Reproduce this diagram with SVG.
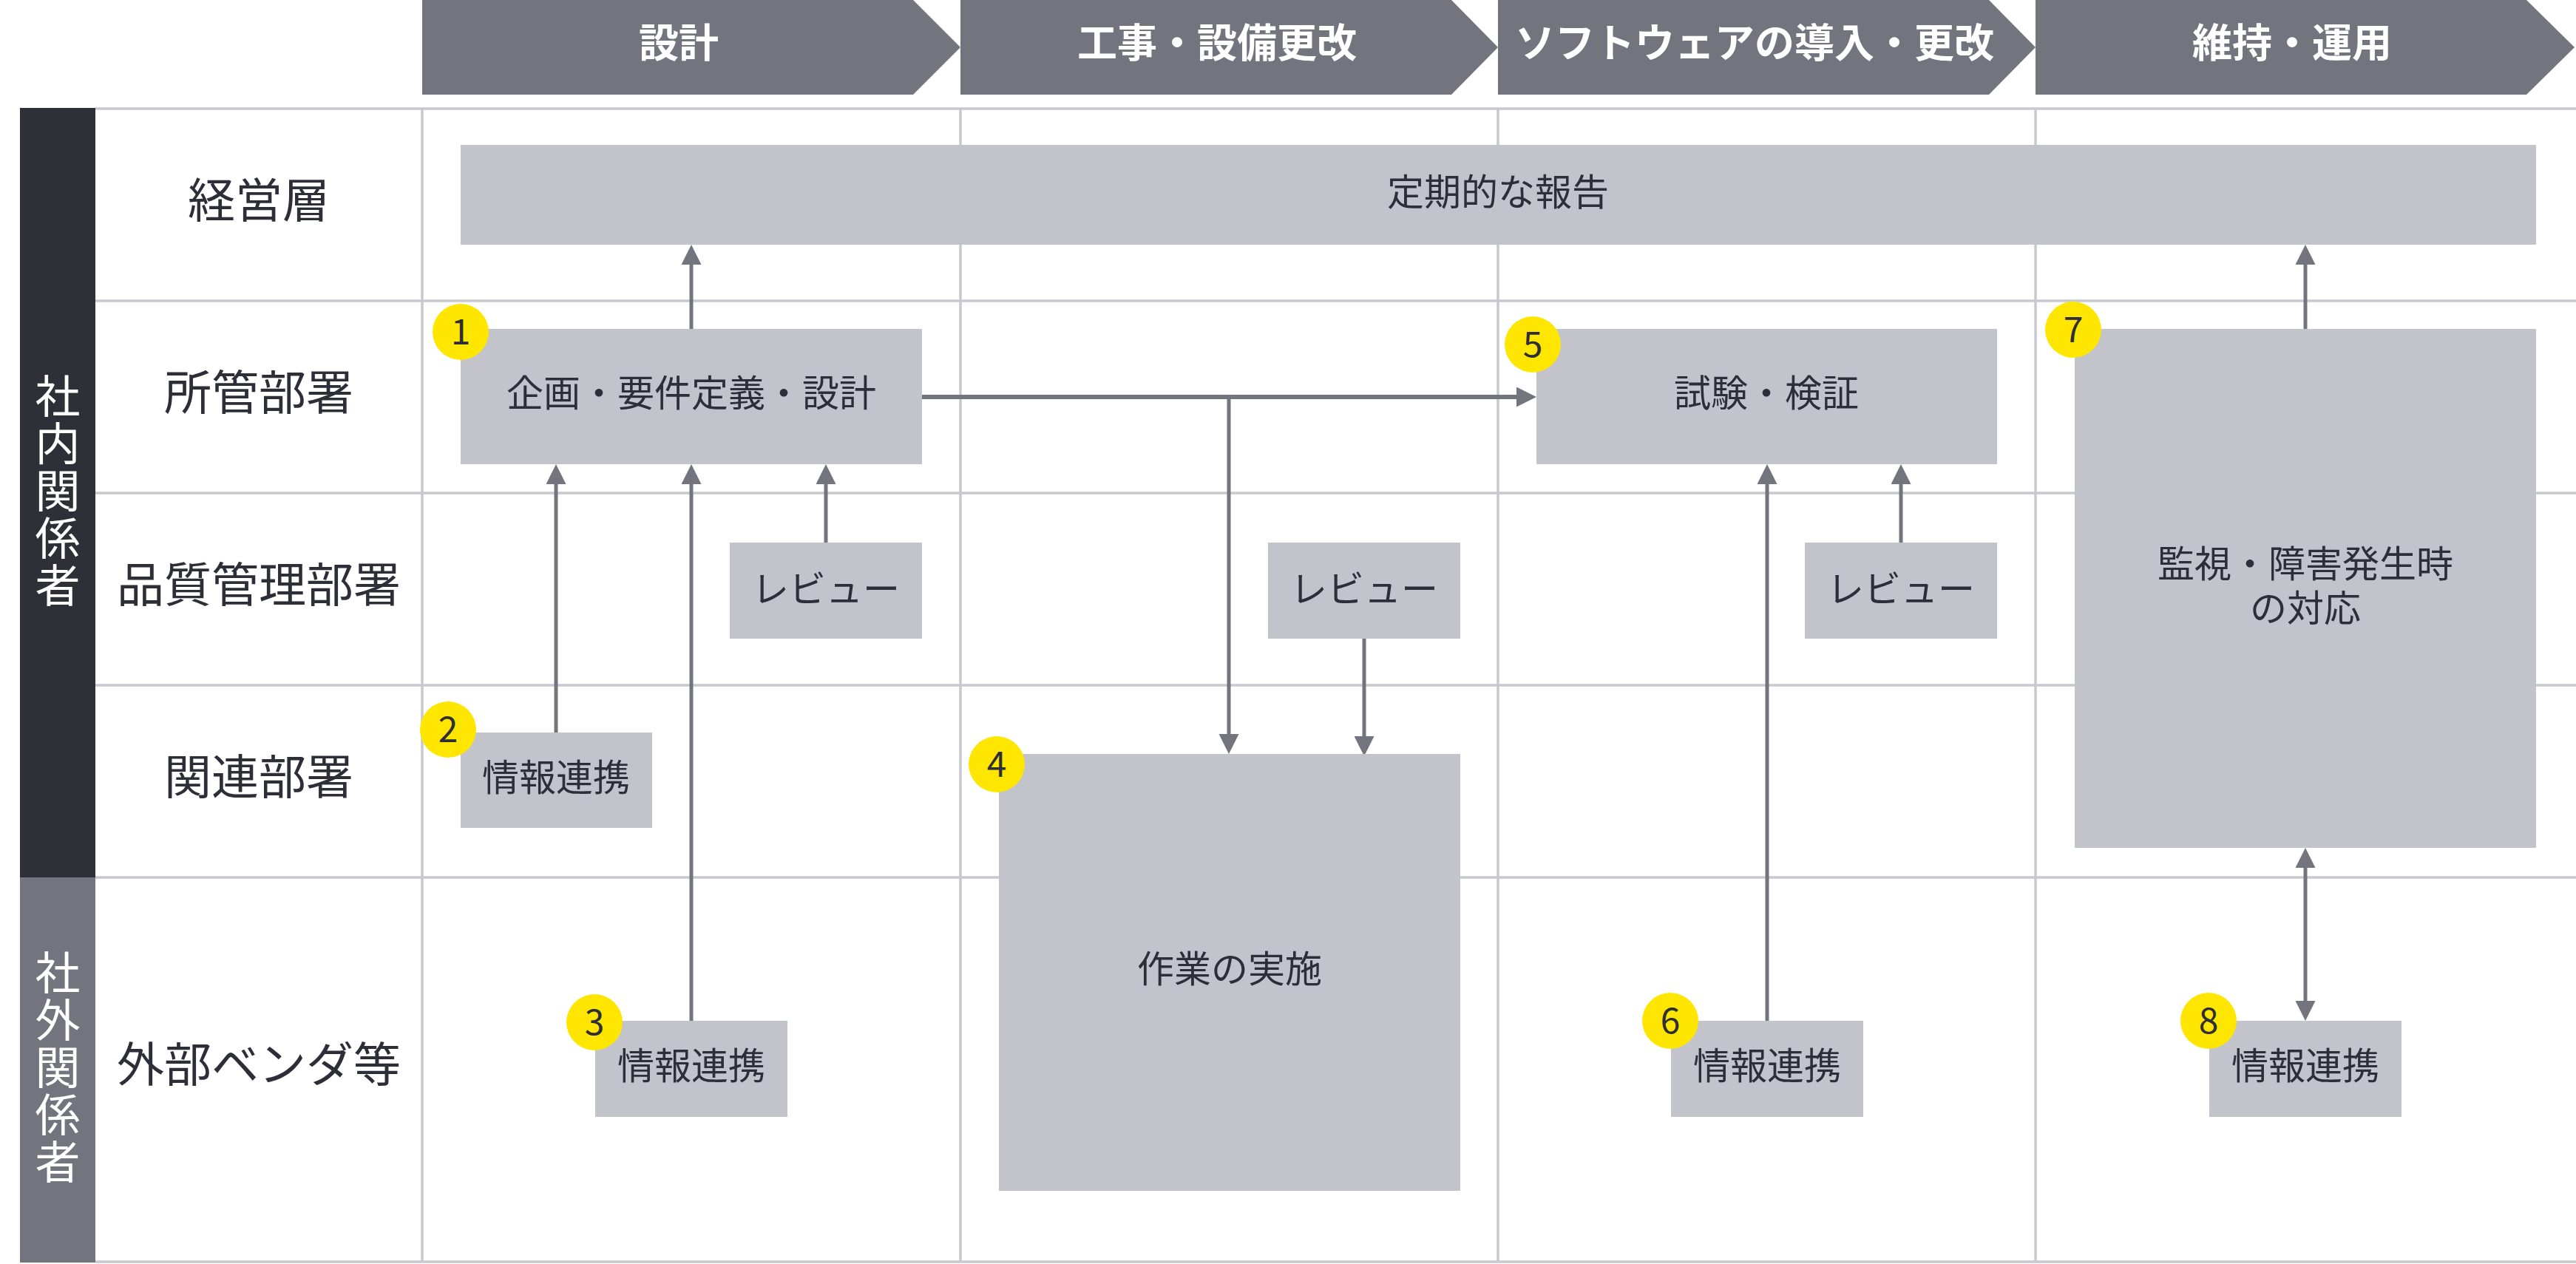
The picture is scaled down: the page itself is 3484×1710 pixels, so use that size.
<svg xmlns="http://www.w3.org/2000/svg" width="3484" height="1710" viewBox="0 0 3484 1710">
<style>
text{font-family:"Noto Sans CJK JP","Noto Sans",sans-serif;fill:#2e2e38}
.hd{fill:#74747f}
.ht{font-size:54px;font-weight:bold;fill:#ffffff;text-anchor:middle}
.grid{stroke:#c8c8d0;stroke-width:3.5;fill:none}
.rl{font-size:64px;text-anchor:middle}
.vl{font-size:61px;text-anchor:middle;fill:#ffffff;writing-mode:vertical-rl;letter-spacing:3px}
.box{fill:#c3c3cc}
.bt{font-size:50px;text-anchor:middle}
.badge{fill:#ffe600}
.bn{font-size:48px;text-anchor:middle}
.con{stroke:#74747f;stroke-width:5;fill:none}
</style>
<defs>
<marker id="ah" markerUnits="userSpaceOnUse" markerWidth="27" markerHeight="27" refX="7" refY="13.5" orient="auto-start-reverse" viewBox="0 0 27 27">
<path d="M0,0 L27,13.5 L0,27 z" fill="#74747f"/>
</marker>
</defs>
<rect width="3484" height="1710" fill="#ffffff"/>
<g id="header">
<polygon class="hd" points="571,0 1235,0 1299,64 1235,128 571,128"/>
<polygon class="hd" points="1299,0 1963,0 2026,64 1963,128 1299,128"/>
<polygon class="hd" points="2026,0 2690,0 2753,64 2690,128 2026,128"/>
<polygon class="hd" points="2753,0 3417,0 3482,64 3417,128 2753,128"/>
<text class="ht" x="918" y="78">設計</text>
<text class="ht" x="1646" y="78">工事・設備更改</text>
<text class="ht" x="2373" y="78">ソフトウェアの導入・更改</text>
<text class="ht" x="3100" y="78">維持・運用</text>
</g>
<g id="lanes">
<rect x="27" y="146" width="102" height="1041" fill="#2f2f38"/>
<rect x="27" y="1187" width="102" height="521" fill="#74747f"/>
<text class="vl" x="78" y="665">社内関係者</text>
<text class="vl" x="78" y="1445">社外関係者</text>
</g>
<g id="grid">
<path class="grid" d="M129,147 H3484 M129,407 H3484 M129,667 H3484 M129,927 H3484 M129,1187 H3484 M129,1707 H3484"/>
<path class="grid" d="M571,147 V1708 M1299,147 V1708 M2026,147 V1708 M2753,147 V1708"/>
</g>
<g id="rowlabels">
<text class="rl" x="350" y="294">経営層</text>
<text class="rl" x="350" y="554">所管部署</text>
<text class="rl" x="350" y="814">品質管理部署</text>
<text class="rl" x="350" y="1074">関連部署</text>
<text class="rl" x="350" y="1463">外部ベンダ等</text>
</g>
<g id="connectors">
<path class="con" d="M935,445 V351" marker-end="url(#ah)"/>
<path class="con" d="M752,991 V648" marker-end="url(#ah)"/>
<path class="con" d="M935,1381 V648" marker-end="url(#ah)"/>
<path class="con" d="M1117,734 V648" marker-end="url(#ah)"/>
<path class="con" style="stroke-width:6" d="M1247,537 H2058" marker-end="url(#ah)"/>
<path class="con" d="M1662,537 V1000" marker-end="url(#ah)"/>
<path class="con" d="M1845,864 V1003" marker-end="url(#ah)"/>
<path class="con" d="M2571,734 V648" marker-end="url(#ah)"/>
<path class="con" d="M2390,1381 V648" marker-end="url(#ah)"/>
<path class="con" d="M3118,445 V351" marker-end="url(#ah)"/>
<path class="con" d="M3118,1167 V1361" marker-start="url(#ah)" marker-end="url(#ah)"/>
</g>
<g id="n-report"><rect class="box" x="623" y="196" width="2807" height="135"/><text class="bt" x="2026" y="278">定期的な報告</text></g>
<g id="n1"><rect class="box" x="623" y="445" width="624" height="183"/><text class="bt" x="935" y="550">企画・要件定義・設計</text></g>
<g id="n-review1"><rect class="box" x="987" y="734" width="260" height="130"/><text class="bt" x="1117" y="815">レビュー</text></g>
<g id="n2"><rect class="box" x="623" y="991" width="259" height="129"/><text class="bt" x="752" y="1070">情報連携</text></g>
<g id="n3"><rect class="box" x="805" y="1381" width="260" height="130"/><text class="bt" x="935" y="1460">情報連携</text></g>
<g id="n4"><rect class="box" x="1351" y="1020" width="624" height="591"/><text class="bt" x="1663" y="1329">作業の実施</text></g>
<g id="n-review2"><rect class="box" x="1715" y="734" width="260" height="130"/><text class="bt" x="1845" y="815">レビュー</text></g>
<g id="n5"><rect class="box" x="2078" y="445" width="623" height="183"/><text class="bt" x="2389" y="550">試験・検証</text></g>
<g id="n-review3"><rect class="box" x="2441" y="734" width="260" height="130"/><text class="bt" x="2571" y="815">レビュー</text></g>
<g id="n6"><rect class="box" x="2260" y="1381" width="260" height="130"/><text class="bt" x="2390" y="1460">情報連携</text></g>
<g id="n7"><rect class="box" x="2806" y="445" width="624" height="702"/><text class="bt" x="3118" y="781">監視・障害発生時</text><text class="bt" x="3118" y="841">の対応</text></g>
<g id="n8"><rect class="box" x="2988" y="1381" width="260" height="130"/><text class="bt" x="3118" y="1460">情報連携</text></g>
<g id="badges">
<circle class="badge" cx="623" cy="449" r="38"/><text class="bn" x="623" y="466">1</text>
<circle class="badge" cx="606" cy="987" r="38"/><text class="bn" x="606" y="1004">2</text>
<circle class="badge" cx="804" cy="1383" r="38"/><text class="bn" x="804" y="1400">3</text>
<circle class="badge" cx="1348" cy="1034" r="38"/><text class="bn" x="1348" y="1051">4</text>
<circle class="badge" cx="2073" cy="466" r="38"/><text class="bn" x="2073" y="483">5</text>
<circle class="badge" cx="2259" cy="1381" r="38"/><text class="bn" x="2259" y="1398">6</text>
<circle class="badge" cx="2804" cy="446" r="38"/><text class="bn" x="2804" y="463">7</text>
<circle class="badge" cx="2987" cy="1381" r="38"/><text class="bn" x="2987" y="1398">8</text>
</g>
</svg>
